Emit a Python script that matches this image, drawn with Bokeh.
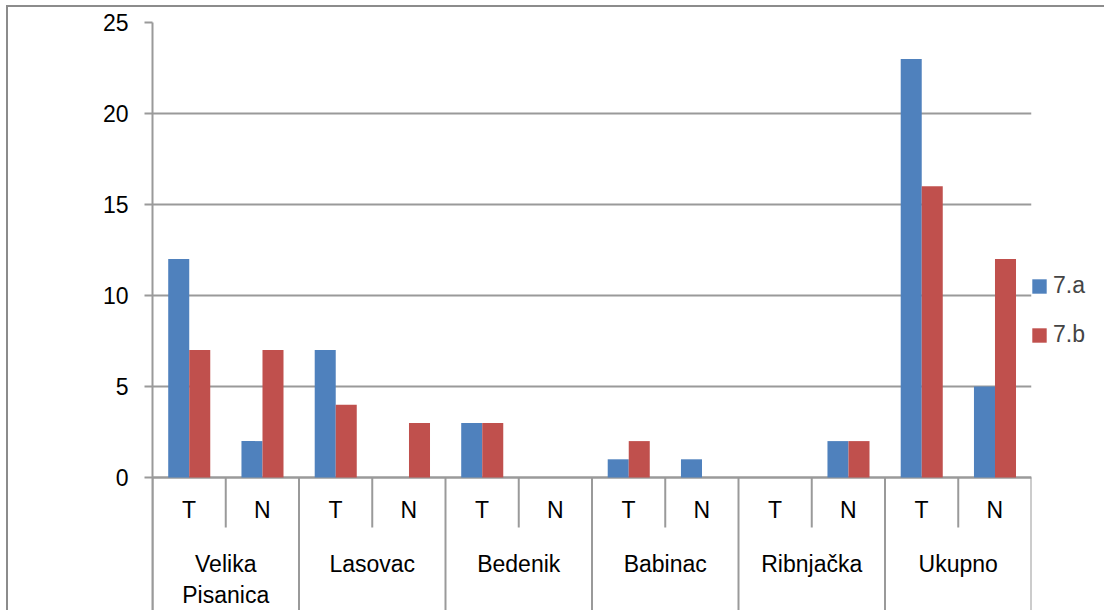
from bokeh.plotting import figure
from bokeh.models import (FactorRange, Range1d, ColumnDataSource, FixedTicker,
                          Legend, LegendItem)
from bokeh.transform import dodge
from bokeh.core.properties import value
from bokeh.embed import file_html
from bokeh.resources import INLINE

# ---- data ----
groups = ["Velika Pisanica", "Lasovac", "Bedenik", "Babinac", "Ribnjačka", "Ukupno"]
group_labels = ["Velika\nPisanica", "Lasovac", "Bedenik", "Babinac", "Ribnjačka", "Ukupno"]
subs = ["T", "N"]
series_names = ["7.a", "7.b"]
vals_7a = [12, 2, 7, 0, 3, 0, 1, 1, 0, 2, 23, 5]
vals_7b = [7, 7, 4, 3, 3, 0, 2, 0, 0, 2, 16, 12]
y_ticks = [0, 5, 10, 15, 20, 25]

BLUE = "#4F81BD"
RED = "#C0504D"
GRID = "#9a9a9a"
FONT = "Liberation Sans"
FS = "23px"

factors = [(g, s) for g in groups for s in subs]
src = ColumnDataSource(dict(x=factors, a=vals_7a, b=vals_7b))

LEFT, TOP = 144, 15
FW, FH = 879, 588
px_per_unit = 455 / 25.0
ymin = 25 - FH / px_per_unit

p = figure(frame_width=FW, frame_height=FH, output_backend="svg", toolbar_location=None,
           x_range=FactorRange(*factors, factor_padding=0, group_padding=0,
                               subgroup_padding=0, range_padding=0),
           y_range=Range1d(ymin, 25),
           x_axis_location=None,
           min_border_left=LEFT, min_border_top=TOP, min_border_right=10,
           min_border_bottom=0,
           styles={"margin-left": "6px", "margin-top": "5px",
                   "border-left": "2px solid #8c8c8c", "border-top": "2px solid #8c8c8c"})
p.outline_line_color = None
p.xgrid.visible = False
p.ygrid.ticker = FixedTicker(ticks=y_ticks)
p.ygrid.grid_line_color = GRID
p.ygrid.grid_line_width = 2

ax = p.yaxis[0]
ax.ticker = FixedTicker(ticks=y_ticks)
ax.axis_line_color = GRID
ax.axis_line_width = 2
ax.major_tick_line_color = GRID
ax.major_tick_line_width = 2
ax.major_tick_out = 8
ax.major_tick_in = 0
ax.minor_tick_line_color = None
ax.major_label_standoff = 16
ax.major_label_text_font = FONT
ax.major_label_text_font_size = FS
ax.major_label_text_color = "black"

# x-axis line at zero
p.segment(x0=[0], x1=[len(factors)], y0=[0], y1=[0], line_color=GRID, line_width=2)

r1 = p.vbar(x=dodge("x", -0.142, range=p.x_range), top="a", width=0.287,
            source=src, fill_color=BLUE, line_color=None)
r2 = p.vbar(x=dodge("x", 0.145, range=p.x_range), top="b", width=0.287,
            source=src, fill_color=RED, line_color=None)

# category separators (Excel-style multi-level axis)
minor_x = [2 * i + 1 for i in range(len(groups))]
major_x = [2 * i for i in range(len(groups) + 1)]
p.segment(x0=minor_x, x1=minor_x, y0=[0] * len(minor_x), y1=[-50 / px_per_unit] * len(minor_x),
          line_color=GRID, line_width=2)
p.segment(x0=major_x, x1=major_x, y0=[0] * len(major_x), y1=[ymin] * len(major_x),
          line_color=GRID, line_width=2)

# sub labels
p.text(x=factors, y=[-32 / px_per_unit] * len(factors), text=[f[1] for f in factors],
       text_font=value(FONT), text_font_size=FS, text_align="center",
       text_baseline="middle", text_color="black")
# group labels
p.text(x=groups, y=[-73 / px_per_unit] * len(groups), text=group_labels,
       text_font=value(FONT), text_font_size=FS, text_align="center",
       text_baseline="top", text_color="black", text_line_height=1.22)

legend = Legend(items=[LegendItem(label=series_names[0], renderers=[r1]),
                       LegendItem(label=series_names[1], renderers=[r2])],
                location=(-1, 262), glyph_width=18, glyph_height=18,
                label_standoff=5, spacing=22, padding=0, margin=0,
                border_line_alpha=0, background_fill_alpha=0,
                label_text_font=FONT, label_text_font_size=FS)
p.add_layout(legend, "right")

open("out.html", "w").write(file_html(p, INLINE))
